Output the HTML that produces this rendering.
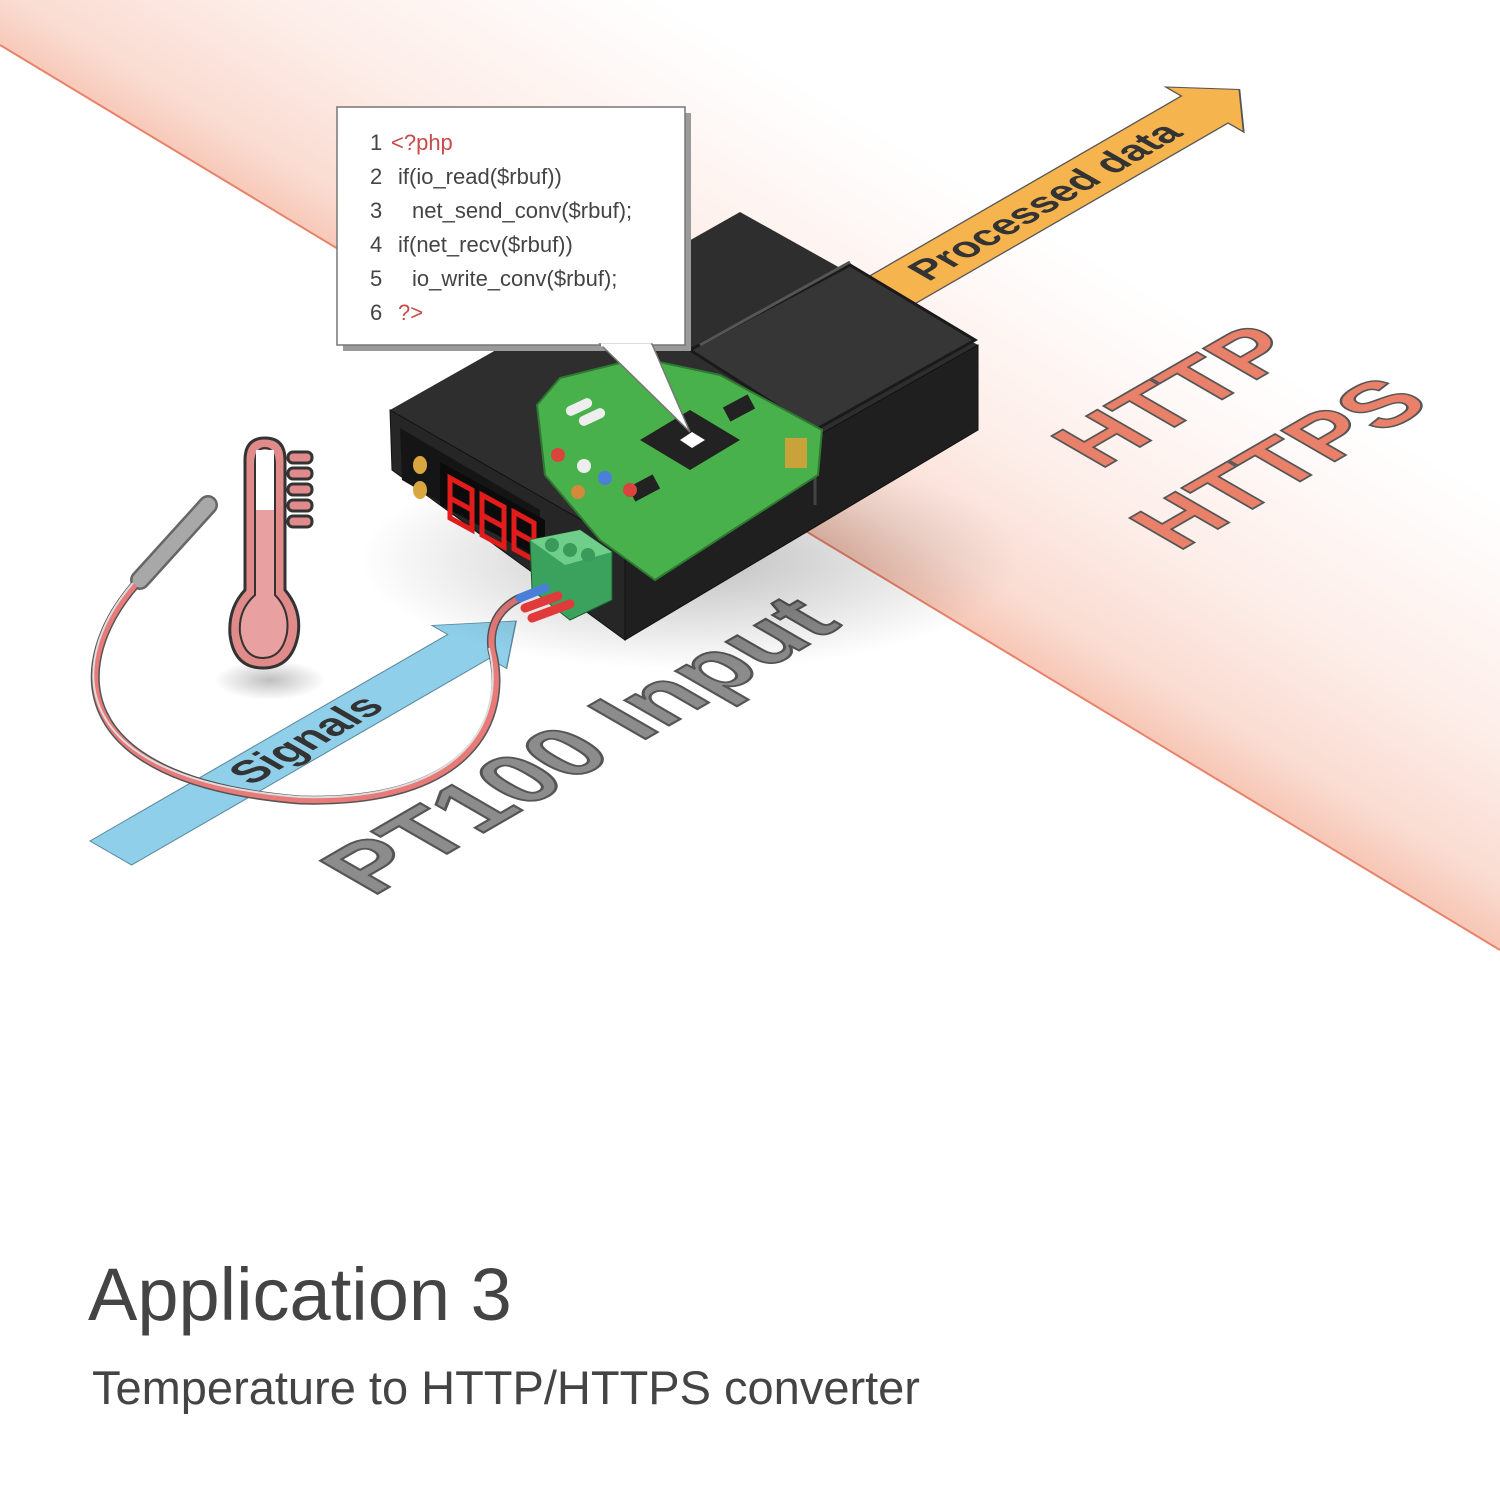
<!DOCTYPE html>
<html><head><meta charset="utf-8"><style>
html,body{margin:0;padding:0;background:#fff}
svg{display:block}
</style></head><body>
<svg width="1500" height="1500" viewBox="0 0 1500 1500" xmlns="http://www.w3.org/2000/svg" font-family="Liberation Sans, sans-serif">
<defs>
<linearGradient id="pg" gradientUnits="userSpaceOnUse" x1="750" y1="497" x2="1010" y2="60">
<stop offset="0" stop-color="#f7c8b7"/><stop offset="0.1" stop-color="#fadcd2"/><stop offset="0.35" stop-color="#fdeee9"/><stop offset="0.75" stop-color="#ffffff"/>
</linearGradient>
<radialGradient id="sh"><stop offset="0" stop-color="#000" stop-opacity="0.25"/><stop offset="1" stop-color="#000" stop-opacity="0"/></radialGradient>
</defs>
<rect width="1500" height="1500" fill="#fff"/>
<polygon points="0,45 0,0 1500,0 1500,950" fill="url(#pg)"/>
<line x1="0" y1="45" x2="1500" y2="950" stroke="#e8826a" stroke-width="2"/>

<g transform="matrix(0.866,-0.5,0.866,0.5,372,897)">
<text x="0" y="0" font-size="96" font-weight="bold" fill="#8c8c8c" stroke="#555" stroke-width="2.5">PT100 Input</text>
</g>

<g transform="matrix(0.866,-0.5,0.866,0.5,925,288)">
<polygon points="-60,-44 340,-44 340,-62 380,-17 340,28 340,10 -60,10" fill="#f6b44e" stroke="#555" stroke-width="1.5"/>
<text x="8" y="-4" font-size="40" font-weight="bold" fill="#333">Processed data</text>
</g>

<g transform="matrix(0.866,-0.5,0.866,0.5,1100,470)">
<text x="0" y="0" font-size="90" font-weight="bold" fill="#e8806a" stroke="#555" stroke-width="2">HTTP</text>
</g>
<g transform="matrix(0.866,-0.5,0.866,0.5,1178,552)">
<text x="0" y="0" font-size="90" font-weight="bold" fill="#e8806a" stroke="#555" stroke-width="2">HTTPS</text>
</g>

<g transform="matrix(0.866,-0.5,0.866,0.5,258,790)">
<polygon points="-148,-46 265,-46 265,-64 318,-20 265,22 265,2 -148,2" fill="#8fcfea" stroke="#5a8a9e" stroke-width="1.2"/>
<text x="0" y="-8" font-size="44" font-weight="bold" fill="#333">Signals</text>
</g>

<ellipse cx="270" cy="680" rx="55" ry="20" fill="url(#sh)"/>
<g stroke="#333" stroke-width="3">
<rect x="288" y="452" width="24" height="11" rx="5" fill="#e08a8a"/>
<rect x="288" y="468" width="24" height="11" rx="5" fill="#e08a8a"/>
<rect x="288" y="484" width="24" height="11" rx="5" fill="#e08a8a"/>
<rect x="288" y="500" width="24" height="11" rx="5" fill="#e08a8a"/>
<rect x="288" y="516" width="24" height="11" rx="5" fill="#e08a8a"/>
<path d="M245,460 Q245,438 265,438 Q285,438 285,460 L285,590 Q302,610 298,635 Q292,668 263,668 Q234,668 230,635 Q228,608 245,590 Z" fill="#e08a8a"/>
<path d="M255,465 Q255,448 265,448 Q275,448 275,465 L275,595 Q290,610 287,633 Q282,658 263,658 Q244,658 240,633 Q238,610 255,595 Z" fill="#e8a0a0" stroke-width="2"/>
<rect x="256" y="450" width="18" height="60" fill="#fff" stroke="none"/>
</g>

<line x1="140" y1="580" x2="208" y2="505" stroke="#666" stroke-width="20" stroke-linecap="round"/>
<line x1="140" y1="580" x2="208" y2="505" stroke="#a8a8a8" stroke-width="15" stroke-linecap="round"/>
<path d="M135,585 C70,660 60,780 300,800 C470,805 510,720 492,650 C488,620 505,605 520,598" fill="none" stroke="#555" stroke-width="9"/>
<path d="M135,585 C70,660 60,780 300,800 C470,805 510,720 492,650 C488,620 505,605 520,598" fill="none" stroke="#e87a7a" stroke-width="6"/>
<path d="M133,583 C68,658 58,778 300,797 C468,802 506,718 489,648" fill="none" stroke="#ddd" stroke-width="2"/>

<ellipse cx="690" cy="560" rx="330" ry="110" fill="url(#sh)"/>

<polygon points="390,410 740,212 978,345 625,545" fill="#2e2e2e"/>
<polygon points="390,410 625,545 625,640 392,470" fill="#262626" stroke="#111"/>
<polygon points="625,545 978,345 978,430 625,640" fill="#1f1f1f" stroke="#111"/>
<polygon points="690,350 850,265 975,340 815,430" fill="#363636" stroke="#1a1a1a" stroke-width="3"/>
<line x1="700" y1="345" x2="850" y2="262" stroke="#555" stroke-width="3"/>
<line x1="815" y1="430" x2="815" y2="505" stroke="#444" stroke-width="3"/>
<polygon points="400,428 540,510 540,560 402,480" fill="#151515"/>
<ellipse cx="420" cy="465" rx="7" ry="9" fill="#d9a640"/>
<ellipse cx="420" cy="490" rx="7" ry="9" fill="#d9a640"/>
<polygon points="440,462 545,520 545,560 440,505" fill="#0b0b0b"/>
<g fill="none" stroke="#e21b1b" stroke-width="5">
<polygon points="450,478 472,490 472,530 450,518"/><line x1="450" y1="498" x2="472" y2="510"/>
<polygon points="482,495 504,507 504,547 482,535"/><line x1="482" y1="515" x2="504" y2="527"/>
<polygon points="514,512 534,523 534,560 514,549"/><line x1="514" y1="531" x2="534" y2="542"/>
</g>
<polygon points="537,405 560,378 640,358 720,375 822,430 818,475 655,580 600,540 545,475" fill="#49b14b" stroke="#2f7a32" stroke-width="2"/>
<polygon points="640,440 690,410 740,440 690,470" fill="#222"/>
<polygon points="680,440 692,432 705,440 692,448" fill="#fff"/>
<rect x="725" y="400" width="28" height="16" fill="#222" transform="rotate(-28 739 408)"/>
<rect x="630" y="480" width="28" height="16" fill="#222" transform="rotate(-28 644 488)"/>
<circle cx="558" cy="455" r="7" fill="#d9443c"/>
<circle cx="584" cy="466" r="7" fill="#eee"/>
<circle cx="605" cy="478" r="7" fill="#4c7fd9"/>
<circle cx="630" cy="490" r="7" fill="#d9443c"/>
<circle cx="578" cy="492" r="7" fill="#d38a3a"/>
<rect x="565" y="402" width="28" height="10" rx="5" fill="#eee" transform="rotate(-25 579 407)"/>
<rect x="578" y="412" width="28" height="10" rx="5" fill="#eee" transform="rotate(-25 592 417)"/>
<rect x="785" y="438" width="22" height="30" fill="#c9a23a"/>
<polygon points="530,540 580,530 612,552 612,600 570,620 532,590" fill="#3aa25c" stroke="#1f5e34"/>
<polygon points="530,540 580,530 612,552 565,565" fill="#6fcf8a"/>
<circle cx="552" cy="545" r="7" fill="#3a9a5a"/><circle cx="570" cy="550" r="7" fill="#3a9a5a"/><circle cx="588" cy="555" r="7" fill="#3a9a5a"/>
<line x1="520" y1="598" x2="545" y2="588" stroke="#4a7fd9" stroke-width="9" stroke-linecap="round"/>
<line x1="525" y1="608" x2="558" y2="596" stroke="#e03a3a" stroke-width="9" stroke-linecap="round"/>
<line x1="532" y1="618" x2="570" y2="604" stroke="#e03a3a" stroke-width="9" stroke-linecap="round"/>

<rect x="343" y="113" width="348" height="238" fill="#9a9a9a"/>
<rect x="337" y="107" width="348" height="238" fill="#fff" stroke="#777" stroke-width="1.5"/>
<polygon points="600,344 690,432 652,344" fill="#fff" stroke="#777" stroke-width="1.5"/>
<line x1="601" y1="345" x2="651" y2="345" stroke="#fff" stroke-width="3"/>
<g font-size="22" fill="#444">
<text x="370" y="150">1</text><text x="391" y="150" fill="#c94a4a">&lt;?php</text>
<text x="370" y="184">2</text><text x="398" y="184">if(io_read($rbuf))</text>
<text x="370" y="218">3</text><text x="412" y="218">net_send_conv($rbuf);</text>
<text x="370" y="252">4</text><text x="398" y="252">if(net_recv($rbuf))</text>
<text x="370" y="286">5</text><text x="412" y="286">io_write_conv($rbuf);</text>
<text x="370" y="320">6</text><text x="398" y="320" fill="#c94a4a">?&gt;</text>
</g>

<text x="88" y="1320" font-size="74" fill="#444">Application 3</text>
<text x="92" y="1404" font-size="47" fill="#444">Temperature to HTTP/HTTPS converter</text>
</svg>
</body></html>
